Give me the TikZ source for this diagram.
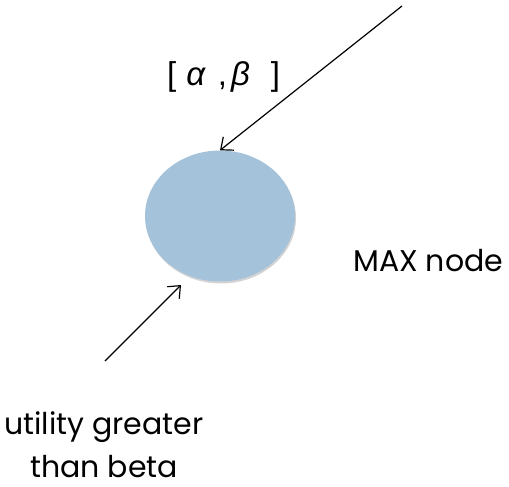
\documentclass[tikz,border=0pt]{standalone}
\usepackage{fontspec}
\setmainfont{Poppins}
\newfontfamily\lblfont{Liberation Sans}
\usepackage{tikz}
\usetikzlibrary{shapes.geometric, arrows.meta, shadows}

\definecolor{nodeblue}{HTML}{A5C2DB}

\begin{document}
\begin{tikzpicture}[
  x=1pt, y=-1pt,
  maxcirc/.style={ellipse, minimum width=150pt, minimum height=131pt, inner sep=0pt, fill=nodeblue,
    drop shadow={opacity=0.35, shadow xshift=1pt, shadow yshift=-2pt}},
  txt/.style={inner sep=0pt, font=\fontsize{30}{43}\selectfont, align=center},
  arr/.style={-{Straight Barb[length=10pt, width=17pt]}, line width=1.2pt},
]
  \useasboundingbox (0,0) rectangle (509,487);

  % The node
  \node[maxcirc] (maxnode) at (220,216) {};
  \node[txt, anchor=base west] (maxlabel) at (353,271) {MAX node};

  % Window label
  \node[inner sep=0pt, anchor=base west, font=\lblfont\fontsize{33}{35}\selectfont] (window) at (167,85)
    {[\hspace{10pt}\textit{α}\hspace{12pt},\hspace{4pt}\textit{β}\hspace{21pt}]};

  % Text below
  \node[txt] (util) at (104,445) {utility greater\\than beta};

  % Arrows
  \coordinate (topstart) at (402,6);
  \coordinate (botstart) at (105,361);
  \coordinate (botend) at (181,285);
  \draw[arr] (topstart) -- (maxnode.north);
  \draw[arr] (botstart) -- (botend);

\end{tikzpicture}
\end{document}
